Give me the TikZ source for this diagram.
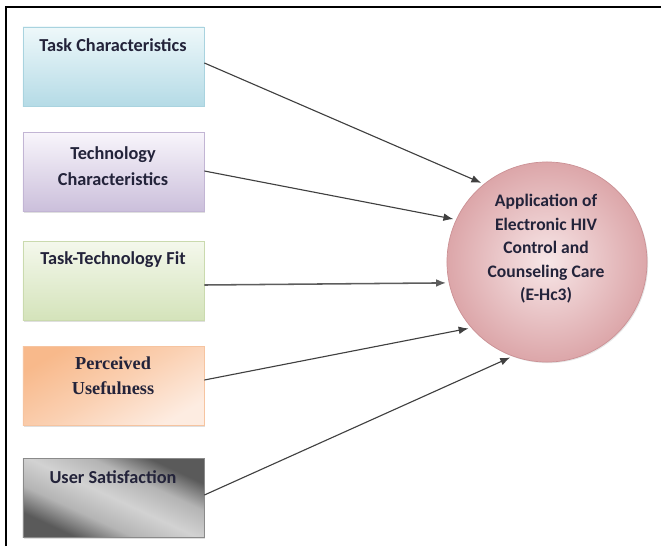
\documentclass[tikz,border=0pt]{standalone}
\usepackage{fontspec}
\setmainfont{Carlito}
\newfontfamily\timesbold{Liberation Serif}
\usetikzlibrary{shadows,arrows.meta}

\definecolor{textdark}{HTML}{23233A}
\definecolor{linegray}{HTML}{404040}
\definecolor{blueTop}{HTML}{EEF8FA}
\definecolor{blueBot}{HTML}{B5DBE6}
\definecolor{blueEdge}{HTML}{A9D3DF}
\definecolor{violetTop}{HTML}{F8F5FB}
\definecolor{violetBot}{HTML}{CBBFDB}
\definecolor{violetEdge}{HTML}{C2B5D4}
\definecolor{greenTop}{HTML}{F4F8EC}
\definecolor{greenBot}{HTML}{D4E3BA}
\definecolor{greenEdge}{HTML}{CADAAE}
\definecolor{orangeTop}{HTML}{F8B98B}
\definecolor{orangeBot}{HTML}{FDECE1}
\definecolor{orangeEdge}{HTML}{F6C4A0}
\definecolor{grayDark}{HTML}{5A5A5A}
\definecolor{grayMid}{HTML}{B4B4B4}
\definecolor{grayLight}{HTML}{D2D2D2}
\definecolor{grayEdge}{HTML}{8A8A8A}
\definecolor{roseIn}{HTML}{F7E6E7}
\definecolor{roseOut}{HTML}{DCA6A9}
\definecolor{roseEdge}{HTML}{CB9195}

% broad light band for the grey box
\pgfdeclareverticalshading{graysheen}{100bp}{color(0bp)=(grayDark); color(27bp)=(grayDark);
  color(38bp)=(grayMid); color(50bp)=(grayLight); color(62bp)=(grayMid);
  color(73bp)=(grayDark); color(100bp)=(grayDark)}

\tikzset{
  factor/.style={rectangle, minimum width=4.525cm, minimum height=1.975cm,
    line width=0.5pt, drop shadow={opacity=0.25, shadow xshift=0.8pt, shadow yshift=-0.8pt}},
  factortext/.style={font=\bfseries\fontsize{13}{18.5}\selectfont, text=textdark,
    align=center, inner sep=0pt},
  link/.style={-{Latex[length=7pt,width=5.5pt]}, line width=0.8pt, draw=linegray, shorten >=2pt},
}

\begin{document}
\begin{tikzpicture}[x=0.025cm, y=-0.025cm]
  \useasboundingbox (0,0) rectangle (661,546);

  % Frame
  \draw[line width=1.4pt] (6,546) -- (6,7) -- (661,7);

  % Boxes
  \node[factor, draw=blueEdge, top color=blueTop, bottom color=blueBot] (taskc) at (113.5,66.5) {};
  \node[factor, draw=violetEdge, top color=violetTop, bottom color=violetBot] (techc) at (113.5,172) {};
  \node[factor, draw=greenEdge, top color=greenTop, bottom color=greenBot] (ttf) at (113.5,281) {};
  \node[factor, draw=orangeEdge, top color=orangeTop, bottom color=orangeBot,
    middle color=orangeTop!55!orangeBot, shading angle=30] (pu) at (113.5,386) {};
  \node[factor, draw=grayEdge, shading=graysheen, shading angle=-25] (us) at (113.5,498) {};

  % Box labels
  \node[factortext, anchor=base] (taskcl) at (113,51) {Task Characteristics};
  \node[factortext] (techcl) at (113,166) {Technology\\Characteristics};
  \node[factortext, anchor=base] (ttfl) at (113,264) {Task-Technology Fit};
  \node[factortext, font=\timesbold\bfseries\fontsize{13}{18}\selectfont] (pul) at (113,376) {Perceived\\Usefulness};
  \node[factortext, anchor=base] (usl) at (113,483) {User Satisfaction};

  % Outcome
  \node[circle, minimum size=5cm, inner sep=0pt, draw=roseEdge, line width=0.5pt,
    inner color=roseIn, outer color=roseOut,
    drop shadow={opacity=0.2, shadow xshift=0.8pt, shadow yshift=-0.8pt}] (ehc) at (547,262) {};
  \node[factortext, font=\bfseries\fontsize{12.5}{16.7}\selectfont] (ehcl) at (546,249)
    {Application of\\Electronic HIV\\Control and\\Counseling Care\\(E-Hc3)};

  % Arrows
  \draw[link] (taskc.east |- 0,63) -- (ehc.129);
  \draw[link] (techc.east |- 0,171) -- (ehc.155);
  \draw[link, line width=1.1pt, draw=linegray!85] (ttf.east |- 0,285) -- (ehc.192);
  \draw[link] (pu.east |- 0,380) -- (ehc.221);
  \draw[link] (us.east |- 0,495) -- (ehc.250);

\end{tikzpicture}
\end{document}
